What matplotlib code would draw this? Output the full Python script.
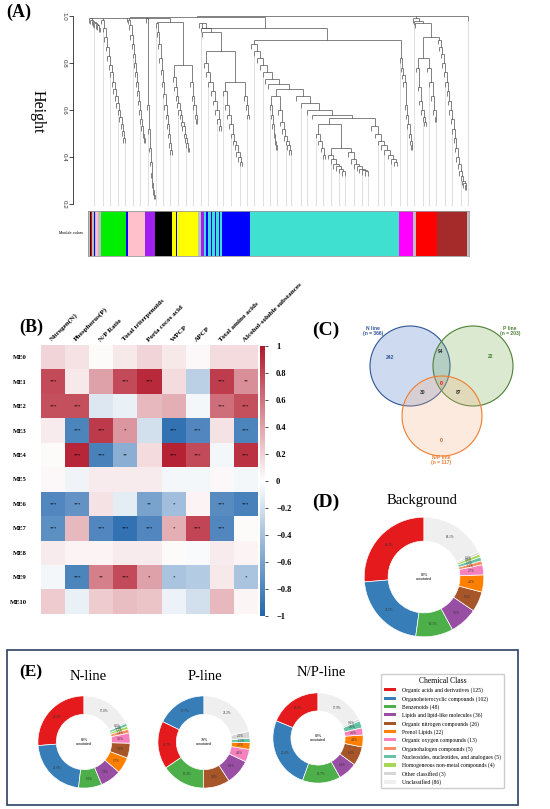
import numpy as np
import matplotlib
matplotlib.use('Agg')
import matplotlib.pyplot as plt
from matplotlib.collections import LineCollection
from matplotlib.colors import LinearSegmentedColormap
from matplotlib.patches import Circle, Rectangle, Patch

plt.rcParams['font.family'] = ['Liberation Serif', 'DejaVu Serif']
SANS = ['Liberation Sans', 'DejaVu Sans']

W, H = 550, 809
fig = plt.figure(figsize=(5.5, 8.09), dpi=100)

# ---------------- data ----------------
# (A) module colour bar (WGCNA modules, widths in leaf units)
module_colors = ['grey', 'black', 'red', 'grey', 'blue', 'grey', 'pink', 'grey', 'green', 'blue',
                 'pink', 'purple', 'black', 'yellow', 'blue', 'yellow', 'grey', 'purple', 'turquoise',
                 'blue', 'turquoise', 'blue', 'turquoise', 'blue', 'turquoise', 'blue', 'turquoise',
                 'blue', 'turquoise', 'magenta', 'grey', 'red', 'brown', 'grey']
module_sizes = [5, 4, 4, 4, 3, 5, 5, 8, 75, 6, 53, 29, 52, 12, 3, 62, 10, 7, 8, 5, 8, 5, 7, 5, 7, 3,
                8, 82, 448, 42, 8, 65, 89, 6]
wgcna_hex = {'grey': '#BEBEBE', 'black': '#000000', 'red': '#FF0000', 'blue': '#0000FF',
             'pink': '#FFC0CB', 'green': '#00EE00', 'purple': '#A020F0', 'yellow': '#FFFF00',
             'turquoise': '#40E0D0', 'magenta': '#FF00FF', 'brown': '#A52A2A'}

# (B) module-trait correlations
traits = ['Nitrogen(N)', 'Phosphorus(P)', 'N/P Ratio', 'Total triterpenoids', 'Poria cocos acid',
          'WPCP', 'APCP', 'Total amino acids', 'Alcohol-soluble substances']
modules = ['ME0', 'ME1', 'ME2', 'ME3', 'ME4', 'ME5', 'ME6', 'ME7', 'ME8', 'ME9', 'ME10']
corr = np.array([
    [0.18, 0.12, 0.02, 0.10, 0.18, 0.10, 0.03, 0.15, 0.15],
    [0.78, 0.10, 0.40, 0.78, 0.92, 0.15, -0.30, 0.84, 0.48],
    [0.75, 0.75, -0.15, -0.10, 0.30, 0.35, -0.05, 0.62, 0.75],
    [0.08, -0.80, 0.85, 0.45, -0.20, -0.92, -0.78, 0.12, -0.80],
    [0.02, 0.93, -0.82, -0.52, 0.15, 0.95, 0.78, -0.05, 0.88],
    [0.03, -0.07, 0.08, 0.08, 0.08, -0.05, -0.05, 0.03, -0.05],
    [-0.78, -0.70, 0.12, -0.12, -0.60, -0.42, 0.05, -0.75, -0.82],
    [-0.72, 0.30, -0.78, -0.92, -0.78, 0.35, 0.80, -0.78, 0.02],
    [0.08, 0.05, 0.05, 0.08, 0.08, 0.02, -0.03, 0.08, 0.05],
    [-0.05, -0.80, 0.55, 0.78, 0.40, -0.38, -0.33, 0.10, -0.38],
    [0.22, -0.10, 0.22, 0.28, 0.25, -0.08, -0.20, 0.30, 0.04],
])
signif = [
    ['', '', '', '', '', '', '', '', ''],
    ['***', '', '', '***', '***', '', '', '***', '**'],
    ['***', '***', '', '', '', '', '', '***', '***'],
    ['', '***', '***', '*', '', '***', '***', '', '***'],
    ['', '***', '***', '**', '', '***', '***', '', '***'],
    ['', '', '', '', '', '', '', '', ''],
    ['***', '***', '', '', '**', '*', '', '***', '***'],
    ['***', '', '***', '***', '***', '*', '***', '***', ''],
    ['', '', '', '', '', '', '', '', ''],
    ['', '***', '**', '***', '*', '*', '', '', '*'],
    ['', '', '', '', '', '', '', '', ''],
]

# (C) Venn counts
venn_sets = ['N line', 'P line', 'N/P line']
venn_totals = [366, 203, 117]
venn_regions = {'N': 242, 'P': 22, 'NP': 0, 'N&P': 94, 'N&NP': 30, 'P&NP': 87, 'all': 0}

# (D, E) chemical classes
classes = ['Organic acids and derivatives', 'Organoheterocyclic compounds', 'Benzenoids',
           'Lipids and lipid-like molecules', 'Organic nitrogen compounds', 'Prenol Lipids',
           'Organic oxygen compounds', 'Organohalogen compounds',
           'Nucleosides, nucleotides, and analogues', 'Homogeneous non-metal compounds',
           'Other classified', 'Unclassified']
class_colors = ['#E41A1C', '#377EB8', '#4DAF4A', '#984EA3', '#A65628', '#FF7F00', '#F781BF',
                '#FC8D62', '#66C2A5', '#A6D854', '#D6D6D6', '#EFEFEF']
bg_counts = [125, 102, 48, 36, 26, 22, 13, 5, 5, 4, 3, 86]
n_order = [0, 1, 2, 3, 5, 4, 6, 7, 9, 8, 10, 11]
n_counts = [96, 80, 30, 27, 21, 19, 13, 5, 4, 4, 2, 65]
p_order = [1, 0, 2, 4, 3, 6, 5, 8, 10, 11]
p_counts = [36, 34, 31, 19, 18, 9, 5, 3, 5, 43]
np_order = [0, 1, 2, 3, 4, 5, 6, 8, 10, 11]
np_counts = [22, 30, 16, 8, 8, 5, 3, 3, 1, 21]


def box(x0, y0, x1, y1):
    return fig.add_axes([x0 / W, 1 - y1 / H, (x1 - x0) / W, (y1 - y0) / H])


# overlay in pixel units for labels, venn and frame
ov = fig.add_axes([0, 0, 1, 1])
ov.set_xlim(0, W)
ov.set_ylim(H, 0)
ov.axis('off')

for lab, x, y, fs in [('(A)', 6, 12, 13), ('(B)', 19, 327, 13), ('(C)', 312, 330, 14),
                      ('(D)', 312, 502, 14), ('(E)', 19, 672, 12.5)]:
    ov.text(x, y, lab, fontsize=fs, fontweight='bold', ha='left', va='center')

# ---------------- (A) dendrogram ----------------
segs = []
leaves = []
HANG = 0.02


def merge(h, *kids):
    xs = []
    for x, top in kids:
        if top is None:
            bottom = h - HANG
            leaves.append((x, bottom))
        else:
            bottom = top
        segs.append([(x, bottom), (x, h)])
        xs.append(x)
    segs.append([(min(xs), h), (max(xs), h)])
    return ((min(xs) + max(xs)) / 2, h)


def comb(x0, x1, heights, tail=None):
    n = len(heights) + (1 if tail is None else 0)
    step = (x1 - x0) / n
    xs = [x0 + step * (i + 0.5) for i in range(n)]
    node = tail if tail is not None else (xs[-1], None)
    for i in range(len(heights) - 1, -1, -1):
        node = merge(heights[i], (xs[i], None), node)
    return node


misc = comb(0, 38, [0.99, 0.985, 0.98, 0.975, 0.97, 0.965, 0.96, 0.95])
green = comb(38, 113, [0.985, 0.95, 0.91, 0.87, 0.83, 0.79, 0.76, 0.72, 0.69, 0.66, 0.63,
                       0.60, 0.57, 0.54, 0.51, 0.48])
pink = comb(119, 172, [0.985, 0.96, 0.92, 0.88, 0.84, 0.80, 0.76, 0.72, 0.68, 0.64, 0.60,
                       0.56, 0.53, 0.50, 0.48])
purple = comb(172, 201, [0.99, 0.62, 0.52, 0.44, 0.38, 0.33, 0.29, 0.26, 0.24])
black = comb(201, 253, [0.97, 0.93, 0.88, 0.82, 0.77, 0.72, 0.67, 0.62, 0.58, 0.54, 0.50,
                        0.46, 0.43])
yellow = merge(0.79, comb(253, 305, [0.74, 0.70, 0.66, 0.63, 0.60, 0.58, 0.55, 0.53, 0.50,
                                     0.48, 0.46, 0.44]),
               comb(305, 330, [0.72, 0.66, 0.62, 0.58, 0.56]))
left = merge(0.993, misc, green, (116, None), pink, purple, merge(0.975, black, yellow))

blue_mod = merge(0.72, comb(403, 465, [0.68, 0.62, 0.58, 0.54, 0.50, 0.47, 0.45, 0.42, 0.40, 0.38]),
                 comb(465, 485, [0.66, 0.62, 0.58]))
stripes = comb(330, 345, [0.97, 0.95, 0.93],
               tail=merge(0.85, comb(345, 403, [0.80, 0.76, 0.72, 0.68, 0.64, 0.60, 0.56, 0.53]),
                          blue_mod))

tq_a = merge(0.66, comb(545, 568, [0.62, 0.58, 0.54, 0.50, 0.47, 0.45]),
             comb(568, 612, [0.60, 0.55, 0.52, 0.49, 0.47, 0.45, 0.43]))
tq_c1 = merge(0.54, comb(680, 715, [0.50, 0.47, 0.44, 0.41]),
              merge(0.44, comb(715, 775, [0.41, 0.39, 0.37, 0.36, 0.35, 0.34]),
                    comb(775, 845, [0.42, 0.39, 0.37, 0.36, 0.35, 0.345, 0.34])))
tq_c = merge(0.565, tq_c1, comb(845, 933, [0.53, 0.50, 0.47, 0.45, 0.43, 0.41, 0.39, 0.38]))
tq_core = merge(0.69, tq_a, comb(615, 680, [0.66, 0.63, 0.60, 0.58], tail=tq_c))
tq = comb(485, 545, [0.88, 0.85, 0.82, 0.79, 0.76, 0.73, 0.71], tail=tq_core)
magenta = comb(933, 975, [0.82, 0.78, 0.75, 0.72, 0.62, 0.58, 0.54, 0.50, 0.47, 0.45])
mid = merge(0.95, stripes, merge(0.90, tq, magenta))

red_sub = merge(0.82, comb(983, 1015, [0.78, 0.70, 0.64, 0.60, 0.57, 0.55]),
                comb(1015, 1048, [0.78, 0.72, 0.66, 0.60, 0.57]))
brown = comb(1048, 1137, [0.90, 0.87, 0.84, 0.80, 0.76, 0.72, 0.68, 0.64, 0.60, 0.56, 0.52,
                          0.48, 0.44, 0.40, 0.37, 0.34, 0.32, 0.30, 0.29, 0.28])
rb = comb(975, 983, [0.99, 0.98, 0.97], tail=merge(0.91, red_sub, brown))
root = merge(1.0, merge(0.996, left, mid), rb, (1140, None))

total = sum(module_sizes)
axd = box(88, 16, 469, 204)
axd.set_xlim(0, total)
axd.set_ylim(0.2, 1.0)
lx = np.array([l[0] for l in leaves])
ly = np.array([l[1] for l in leaves])
guides = []
for gx in np.linspace(20, total - 4, 50):
    i = np.argmin(np.abs(lx - gx))
    guides.append([(lx[i], ly[i]), (lx[i], 0.19)])
axd.add_collection(LineCollection(guides, colors='#CFCFCF', linewidths=0.45, clip_on=False, zorder=1))
axd.add_collection(LineCollection(segs, colors='#3C3C3C', linewidths=0.45, clip_on=False, zorder=2))
for s in ['top', 'right', 'bottom']:
    axd.spines[s].set_visible(False)
axd.spines['left'].set_position(('outward', 10.8))
axd.spines['left'].set_bounds(0.2, 1.0)
axd.spines['left'].set_linewidth(0.5)
axd.set_xticks([])
axd.set_yticks([0.2, 0.4, 0.6, 0.8, 1.0])
axd.set_yticklabels(['0.2', '0.4', '0.6', '0.8', '1.0'], rotation=270, va='center',
                    fontsize=4.5, family=SANS, color='#333333')
axd.tick_params(axis='y', length=3, width=0.5, pad=1.5)
axd.patch.set_visible(False)
ov.text(38, 112, 'Height', rotation=270, fontsize=11.5, ha='center', va='center')

axc = box(88, 211, 469, 256)
starts = np.concatenate([[0], np.cumsum(module_sizes)[:-1]])
axc.bar(starts, 1, width=module_sizes, align='edge', color=[wgcna_hex[c] for c in module_colors],
        linewidth=0)
axc.set_xlim(0, total)
axc.set_ylim(0, 1)
axc.set_xticks([])
axc.set_yticks([])
for s in axc.spines.values():
    s.set_color('#9A9A9A')
    s.set_linewidth(0.6)
ov.text(71, 233, 'Module colors', fontsize=2.8, family=SANS, ha='center', va='center')

# ---------------- (B) heatmap ----------------
cmap = LinearSegmentedColormap.from_list('bwr_soft', ['#2166AC', '#FFFFFF', '#B2182B'])
axh = box(41, 345, 258, 614)
im = axh.imshow(corr, cmap=cmap, vmin=-1, vmax=1, aspect='auto', interpolation='nearest')
for i in range(len(modules)):
    for j in range(len(traits)):
        if signif[i][j]:
            axh.text(j, i, signif[i][j], ha='center', va='center', fontsize=3.5)
axh.xaxis.tick_top()
axh.set_xticks(range(len(traits)))
axh.set_xticklabels(traits, rotation=45, ha='left', va='bottom', rotation_mode='anchor',
                    fontsize=5.1, fontweight='bold')
axh.set_yticks(range(len(modules)))
axh.set_yticklabels(modules, fontsize=4.8, fontweight='bold')
axh.tick_params(length=0, pad=2)
axh.tick_params(axis='y', pad=10)
for s in axh.spines.values():
    s.set_visible(False)

cax = box(260, 346, 265, 616)
cb = fig.colorbar(im, cax=cax)
cb_ticks = [1, 0.8, 0.6, 0.4, 0.2, 0, -0.2, -0.4, -0.6, -0.8, -1]
cb.set_ticks(cb_ticks)
cb.set_ticklabels([('%g' % t).replace('-', '\u2212') for t in cb_ticks])
cb.outline.set_visible(False)
cax.tick_params(labelsize=6, length=2, width=0.5, pad=6)
for t in cax.get_yticklabels():
    t.set_fontweight('bold')

# ---------------- (C) venn ----------------
venn_circ = [(410, 366, '#4472C4', '#2F5597'), (473, 366, '#70AD47', '#4E7F36'),
             (442, 416, '#F4B183', '#ED7D31')]
for (cx, cy, fc, ec) in venn_circ:
    ov.add_patch(Circle((cx, cy), 40, facecolor=fc, alpha=0.26, edgecolor='none'))
    ov.add_patch(Circle((cx, cy), 40, facecolor='none', edgecolor=ec, linewidth=0.8))
for name, n, (x, y), col in zip(venn_sets, venn_totals, [(373, 331), (510, 331), (441, 460)],
                                ['#2F5597', '#4E7F36', '#ED7D31']):
    ov.text(x, y, f'{name}\n(n = {n})', ha='center', va='center', fontsize=3.6,
            fontweight='bold', family=SANS, color=col, linespacing=1.2)
venn_pos = {'N': ((390, 357), '#2F5597'), 'N&P': ((441, 351), '#333333'),
            'P': ((491, 356), '#4E7F36'), 'all': ((441, 383), '#FF0000'),
            'N&NP': ((423, 392), '#333333'), 'P&NP': ((459, 392), '#333333'),
            'NP': ((441, 440), '#C55A11')}
for k, ((x, y), col) in venn_pos.items():
    ov.text(x, y, str(venn_regions[k]), ha='center', va='center', fontsize=3.6,
            fontweight='bold', family=SANS, color=col)


# ---------------- (D, E) donuts ----------------
def donut(cx, cy, r, order, counts):
    ax = box(cx - r, cy - r, cx + r, cy + r)
    cols = [class_colors[k] for k in order]
    ax.pie(counts, colors=cols, startangle=90, counterclock=True, radius=1,
           wedgeprops=dict(width=0.4, edgecolor='white', linewidth=0.5),
           autopct='%1.1f%%', pctdistance=0.8, textprops=dict(fontsize=2.3, color='#333333'))
    uncl = counts[order.index(11)]
    ax.text(0, 0, f'{round(100 * (1 - uncl / sum(counts)))}%\nannotated', ha='center',
            va='center', fontsize=2.6, family=SANS, linespacing=1.1)
    ax.set_xlim(-1.02, 1.02)
    ax.set_ylim(-1.02, 1.02)
    ax.set_aspect('equal')
    ax.axis('off')


donut(424, 577, 61, list(range(12)), bg_counts)
ov.text(422, 500, 'Background', fontsize=10.5, ha='center', va='center')

ov.add_patch(Rectangle((7, 650), 511, 155, facecolor='none', edgecolor='#2E4063', linewidth=1.2))
donut(84, 742, 47, n_order, n_counts)
donut(204, 742, 47, p_order, p_counts)
donut(318, 738, 46, np_order, np_counts)
for txt, x, y in [('N-line', 88, 677), ('P-line', 205, 677), ('N/P-line', 321, 673)]:
    ov.text(x, y, txt, fontsize=10.5, ha='center', va='center')

handles = [Patch(facecolor=c, edgecolor='none') for c in class_colors]
labels = [f'{c} ({n})' for c, n in zip(classes, bg_counts)]
ov.legend(handles, labels, title='Chemical Class', loc='upper left', bbox_to_anchor=(381, 674),
          bbox_transform=ov.transData, borderaxespad=0, fontsize=4.1, title_fontsize=5.5,
          handlelength=2.2, handleheight=0.5, labelspacing=0.45, handletextpad=1.0,
          borderpad=0.5, frameon=True, edgecolor='#CCCCCC', framealpha=1)

fig.savefig('out.png', dpi=100)
